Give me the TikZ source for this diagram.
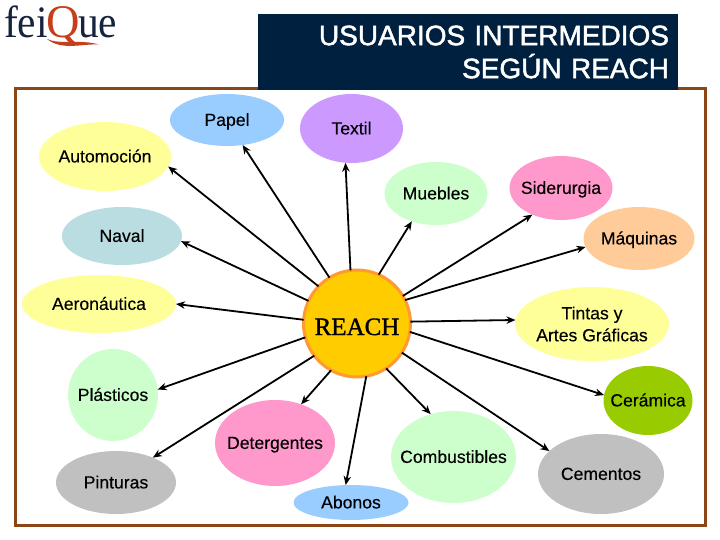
\documentclass[tikz,border=0pt]{standalone}
\usepackage{fontspec}
\setmainfont{Liberation Sans}
\newfontfamily\labelface[FakeBold=0.25]{Liberation Sans}
\newfontfamily\titleface[FakeBold=1.6]{Liberation Sans}
\newfontfamily\serifface{Liberation Serif}
\newfontfamily\hubface[FakeBold=1.2]{Liberation Serif}
\usetikzlibrary{arrows.meta,shapes.geometric}
\definecolor{navyband}{HTML}{002040}
\definecolor{framebrown}{HTML}{8B4517}
\definecolor{logoblue}{HTML}{16233F}
\definecolor{logored}{HTML}{C5401A}
\definecolor{cblue}{HTML}{99CCFF}
\definecolor{cviolet}{HTML}{CC99FF}
\definecolor{cyellow}{HTML}{FFFF99}
\definecolor{cteal}{HTML}{B9DDE1}
\definecolor{cgreen}{HTML}{CCFFCC}
\definecolor{cpink}{HTML}{FF99CC}
\definecolor{corange}{HTML}{FFCC99}
\definecolor{cgrey}{HTML}{C0C0C0}
\definecolor{colive}{HTML}{99CC00}
\definecolor{hubfill}{HTML}{FFCC00}
\definecolor{hubline}{HTML}{FF9933}
\newcommand{\cl}[1]{\makebox[0pt]{#1}}
\tikzset{
  x=1pt,y=-1pt,
  blobbase/.style={ellipse,inner sep=0pt,outer sep=0pt,text=black,
    font=\labelface\fontsize{17.6}{22}\selectfont},
  blob/.style args={#1/#2/#3}{blobbase,fill=#1,minimum width=#2pt,minimum height=#3pt,
    text height=11.8pt,text depth=0pt},
  blobtwo/.style args={#1/#2/#3}{blobbase,fill=#1,minimum width=#2pt,minimum height=#3pt},
  spoke/.style={line width=1.8pt,draw=black,-{Stealth[length=9pt,width=7.5pt]}},
}
\begin{document}
\begin{tikzpicture}
\useasboundingbox (0,0) rectangle (720,540);
\fill[white] (0,0) rectangle (720,540);
% frame
\coordinate (frameA) at (15,89);
\coordinate (frameB) at (705,525.5);
\draw[framebrown,line width=3pt] (frameA) rectangle (frameB);
% title
\node[fill=navyband,text=white,minimum height=76pt,inner ysep=0pt,inner xsep=9pt,
  text width=402pt,align=right,font=\titleface\fontsize{28}{33}\selectfont] (title) at (468,52)
  {USUARIOS INTERMEDIOS\\SEGÚN REACH};
% logo
\fill[logored] (47,39) .. controls (60,45) and (80,39) .. (99,44.5)
  .. controls (82,43.5) and (62,51) .. (47,39) -- cycle;
\node[font=\fontsize{45}{45}\serifface,text=logoblue,inner sep=0pt,xscale=.92,transform shape,anchor=base west] (logo) at (4,37.5)
  {fei\hspace{-1pt}\textcolor{logored}{\scalebox{1.12}[1.04]{Q}}\hspace{-2.5pt}ue};
% hub
\node[circle,fill=hubfill,draw=hubline,line width=3pt,
  minimum size=107pt,inner sep=0pt,outer sep=0pt,text=black,
  font=\fontsize{25}{25}\hubface] (reach) at (357,323.5) {\cl{\raisebox{-11.5pt}[0pt][0pt]{REACH}}};
% satellites
\node[blob=cblue/114/52]   (papel) at (227,120) {\cl{Papel}};
\node[blob=cviolet/103/69] (textil) at (351.5,128.5) {\cl{Textil}};
\node[blob=cyellow/132/69] (auto) at (105,156.5) {\cl{Automoción}};
\node[blob=cteal/120/58]   (naval) at (122,236) {\cl{Naval}};
\node[blob=cgreen/103/63]  (muebles) at (436,193.5) {\cl{Muebles}};
\node[blob=cpink/103/64]   (sider) at (561,188) {\cl{Siderurgia}};
\node[blob=corange/111/63] (maq) at (639,238.5) {\cl{Máquinas}};
\node[blob=cyellow/154/58] (aero) at (99,304) {\cl{Aeronáutica}};
\node[blob=cgreen/90/92]   (plast) at (113,395) {\cl{Plásticos}};
\node[blob=cgrey/120/63]   (pint) at (116,482.5) {\cl{Pinturas}};
\node[blob=cpink/120/86]   (deter) at (275,443) {\cl{Detergentes}};
\node[blob=cblue/115/35]   (abonos) at (351,502.5) {\cl{Abonos}};
\node[blob=cgreen/125/92]  (combus) at (453.5,457) {\cl{Combustibles}};
\node[blob=cgrey/126/80]   (cemen) at (601,474) {\cl{Cementos}};
\node[blob=colive/89/69]   (ceram) at (648,400.5) {\cl{Cerámica}};
\node[blobtwo=cyellow/154/74] (tintas) at (592,324)
  {\cl{\raisebox{-17.3pt}[0pt][0pt]{\renewcommand{\arraystretch}{1}\labelface\fontsize{17.6}{22}\selectfont\begin{tabular}[b]{@{}c@{}}Tintas y\\Artes Gráficas\end{tabular}}}};
% spokes
\draw[spoke] (reach.121)   -- (papel.302.6);
\draw[spoke] (reach.97)    -- (textil.260.8);
\draw[spoke] (reach.136)   -- (auto.-9.6);
\draw[spoke] (reach.155)   -- (naval.-5.8);
\draw[spoke] (reach.176)   -- (aero.0);
\draw[spoke] (reach.195.5) -- (plast.7.6);
\draw[spoke] (reach.217)   -- (pint.34);
\draw[spoke] (reach.241)   -- (deter.56);
\draw[spoke] (reach.280)   -- (abonos.107);
\draw[spoke] (reach.303)   -- (combus.118.8);
\draw[spoke] (reach.327)   -- (cemen.156.7);
\draw[spoke] (reach.351)   -- (ceram.173);
\draw[spoke] (reach.2)     -- (tintas.177.7);
\draw[spoke] (reach.26)    -- (maq.189.3);
\draw[spoke] (reach.31)    -- (sider.223);
\draw[spoke] (reach.66)    -- (muebles.229.8);
\end{tikzpicture}
\end{document}
